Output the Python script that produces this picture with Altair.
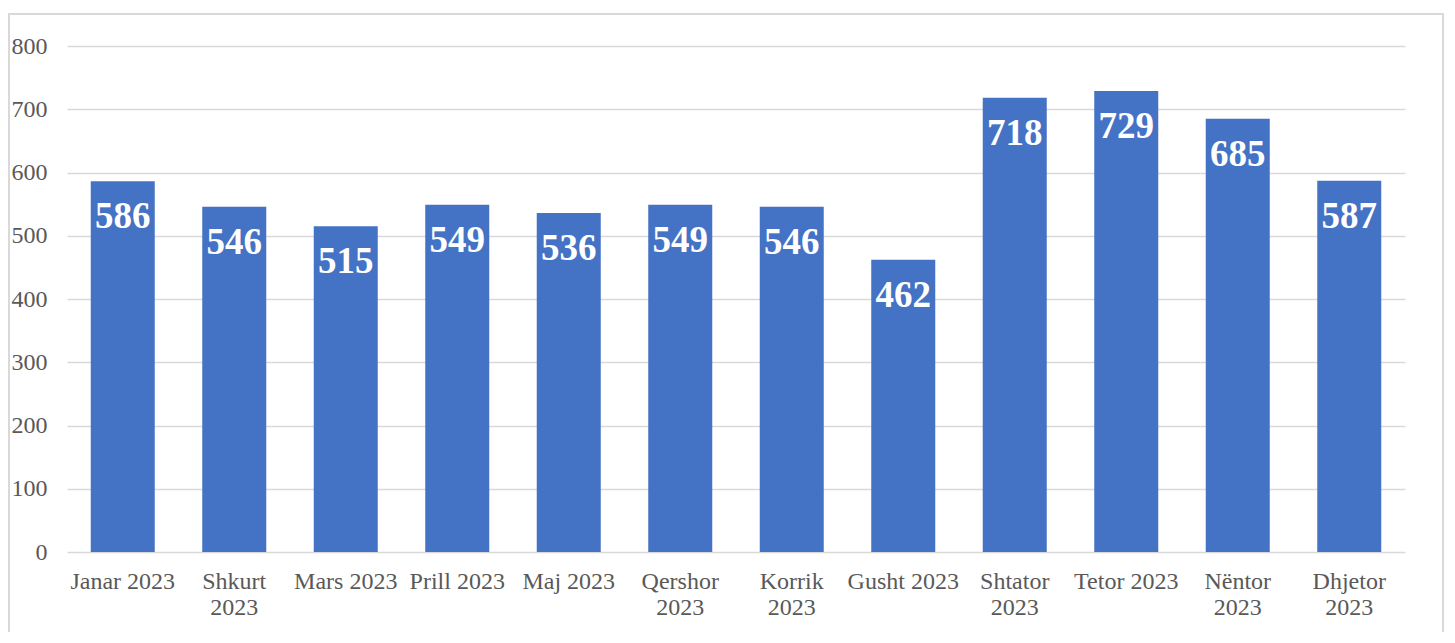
import altair as alt
import pandas as pd

months = ["Janar 2023", "Shkurt\n2023", "Mars 2023", "Prill 2023", "Maj 2023",
          "Qershor\n2023", "Korrik\n2023", "Gusht 2023", "Shtator\n2023",
          "Tetor 2023", "Nëntor\n2023", "Dhjetor\n2023"]
values = [586, 546, 515, 549, 536, 549, 546, 462, 718, 729, 685, 587]
y_ticks = [0, 100, 200, 300, 400, 500, 600, 700, 800]

df = pd.DataFrame({"month": months, "value": values})

FONT = "Liberation Serif"
W, H = 1338, 506

x_enc = alt.X("month:N", sort=months,
              scale=alt.Scale(paddingInner=0.426, paddingOuter=0.213),
              axis=alt.Axis(title=None, labelAngle=0, domain=False, ticks=False,
                            labelPadding=17, labelFontSize=24, labelFont=FONT,
                            labelColor="#595959", labelLineHeight=26,
                            labelExpr="split(datum.label, '\\n')", grid=False))
y_enc = alt.Y("value:Q", scale=alt.Scale(domain=[0, 800], nice=False),
              axis=alt.Axis(title=None, values=y_ticks, domain=False, ticks=False,
                            labelPadding=20, labelFontSize=24, labelFont=FONT,
                            labelColor="#595959", gridColor="#D9D9D9", gridWidth=1.3))

base = alt.Chart(df)
bars = base.mark_bar(color="#4472C4").encode(x=x_enc, y=y_enc)
labels = base.mark_text(color="white", font=FONT, fontWeight="bold", fontSize=37,
                        baseline="top", dy=18).encode(
    x=alt.X("month:N", sort=months), y=alt.Y("value:Q"), text=alt.Text("value:Q"))

frame = alt.Chart(pd.DataFrame({"a": [0]})).mark_rect(
    fill=None, stroke="#D9D9D9", strokeWidth=2).encode(
    x=alt.value(-58), x2=alt.value(1376), y=alt.value(-32), y2=alt.value(620))

chart = alt.layer(frame, bars, labels).properties(
    width=W, height=H,
    autosize=alt.AutoSizeParams(type="none"),
    padding={"left": 59, "top": 38, "right": 40, "bottom": 80},
).configure_view(stroke=None)

chart.save("out.html", embed_options={"renderer": "svg", "actions": False})
